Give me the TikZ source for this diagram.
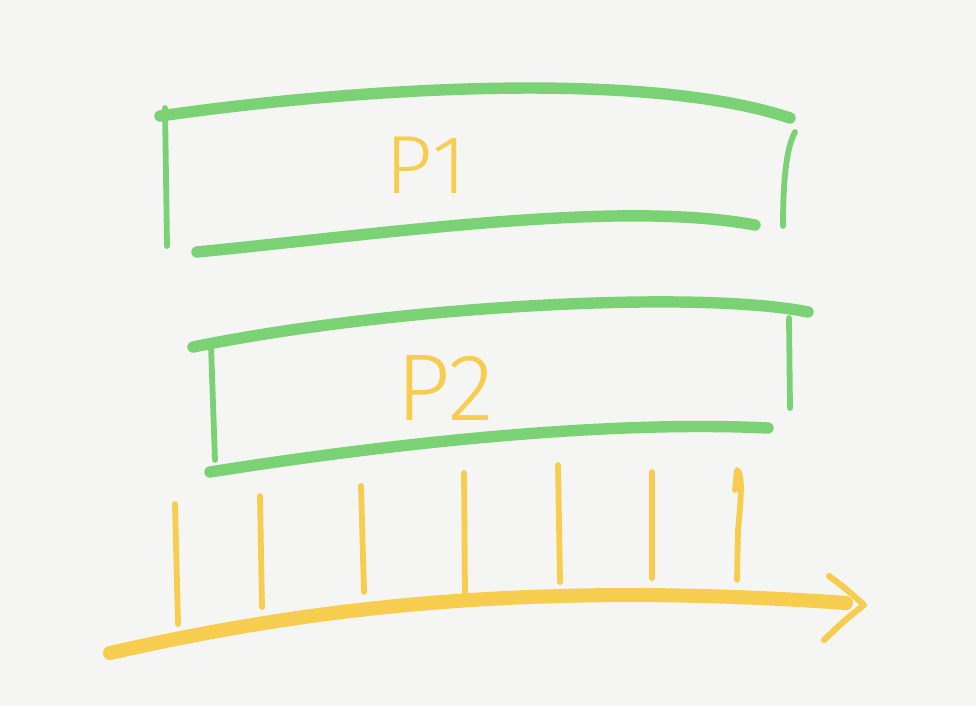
\documentclass[tikz,border=0pt]{standalone}
\usepackage{fontspec}
\newfontfamily\handfont{Fira Sans Light}
\usepackage{tikz}

\begin{document}
\begin{tikzpicture}
	[x=0.02cm,y=-0.02cm,line cap=round,line join=round,
	%Styles
	box edge/.style={draw=boxgreen,line width=6.5pt},
	box side/.style={draw=boxgreen,line width=3.3pt},
	time tick/.style={draw=timeyellow,line width=3.3pt},
	time line/.style={draw=timeyellow,line width=8pt},
	proc label/.style={text=timeyellow,inner sep=0pt,font=\handfont\fontsize{#1}{#1}\selectfont}
	]
	
	%Colors
	\definecolor{paper}{HTML}{F5F5F3}
	\definecolor{boxgreen}{HTML}{7AD274}
	\definecolor{timeyellow}{HTML}{F7CD50}
	
	%Paper
	\fill[paper] (0,0) rectangle (976,706);
	\useasboundingbox (0,0) rectangle (976,706);
	
	%First box
	\draw[box edge] (160,116) .. controls (340,90) and (640,68) .. (790,118);
	\draw[box side] (165,108) -- (167,246);
	\draw[box edge] (197,252) .. controls (400,232) and (620,200) .. (755,225);
	\draw[box side] (795,132) .. controls (785,150) and (783,190) .. (783,226);
	\node[proc label=47] (p1) at (426,165) {P1};
	
	%Second box
	\draw[box edge] (193,347) .. controls (400,305) and (700,290) .. (808,312);
	\draw[box side] (211,346) -- (215,460);
	\draw[box edge] (210,472) .. controls (380,445) and (600,420) .. (768,428);
	\draw[box side] (789,318) -- (790,408);
	\node[proc label=54] (p2) at (445,388) {P2};
	
	%Time axis
	\draw[time line] (110,653) .. controls (300,610) and (520,580) .. (846,603);
	\draw[timeyellow,line width=3.5pt] (829,576) .. controls (845,588) .. (864,605) .. controls (845,620) .. (824,640);
	
	%Ticks
	\draw[time tick] (175,504) -- (178,624);
	\draw[time tick] (260,496) -- (262,607);
	\draw[time tick] (361,486) -- (364,592);
	\draw[time tick] (464,473) -- (465,595);
	\draw[time tick] (558,465) -- (560,582);
	\draw[time tick] (652,472) -- (652,578);
	\draw[time tick] (735,490) -- (737,470) .. controls (743,474) and (741,500) .. (738,530) -- (737,580);
\end{tikzpicture}
\end{document}
